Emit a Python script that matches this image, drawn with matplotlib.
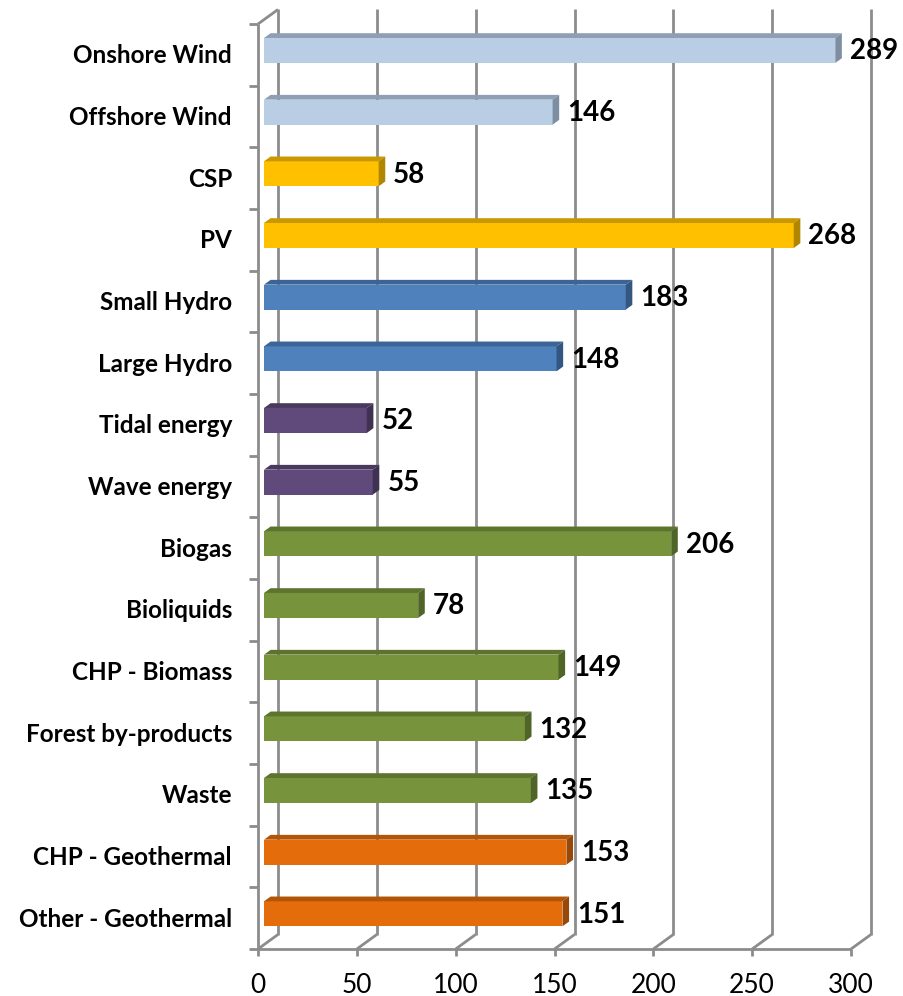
import matplotlib.pyplot as plt
from matplotlib.patches import Polygon

plt.rcParams["font.family"] = ["Lato", "DejaVu Sans"]

categories = ["Onshore Wind", "Offshore Wind", "CSP", "PV", "Small Hydro", "Large Hydro",
              "Tidal energy", "Wave energy", "Biogas", "Bioliquids", "CHP - Biomass",
              "Forest by-products", "Waste", "CHP - Geothermal", "Other - Geothermal"]
values = [289, 146, 58, 268, 183, 148, 52, 55, 206, 78, 149, 132, 135, 153, 151]
groups = ["wind", "wind", "solar", "solar", "hydro", "hydro", "ocean", "ocean",
          "bio", "bio", "bio", "bio", "bio", "geo", "geo"]
x_ticks = [0, 50, 100, 150, 200, 250, 300]

# front, top, side colours per group
palette = {
    "wind": ("#B9CDE5", "#8E9FB5", "#7E8EA2"),
    "solar": ("#FFC000", "#C99800", "#B08500"),
    "hydro": ("#4F81BD", "#3C6496", "#345782"),
    "ocean": ("#604A7B", "#4A395F", "#3F3151"),
    "bio": ("#77933C", "#5D742E", "#506428"),
    "geo": ("#E46C0A", "#B25507", "#984807"),
}

W, H = 904, 996
fig = plt.figure(figsize=(W / 100, H / 100), dpi=100)
# front plane: value 0 -> 258px, 300 -> 851px ; category band top 24px, bottom 949px
x0px, x1px, ytop, ybot = 258, 851, 24, 949
ax = fig.add_axes([x0px / W, 1 - ybot / H, (x1px - x0px) / W, (ybot - ytop) / H])
n = len(categories)
ax.set_xlim(0, 300)
ax.set_ylim(n - 0.5, -0.5)
ax.axis("off")

upx = 300 / (x1px - x0px)          # value units per pixel
vpx = n / (ybot - ytop)            # category units per pixel
DX, DY = 20 * upx, -14.5 * vpx     # depth of the 3D box
grid = dict(color="#8C8C8C", lw=2, clip_on=False, solid_capstyle="butt")

# back wall vertical gridlines + floor slants
for t in x_ticks:
    ax.plot([t + DX, t + DX], [-0.5 + DY, n - 0.5 + DY], **grid)
    ax.plot([t, t], [n - 0.5, n - 0.5 + DY * 0], **grid)
    ax.plot([t, t + DX], [n - 0.5, n - 0.5 + DY], **grid)
    ax.plot([t, t], [n - 0.5, n - 0.5 + 7 * vpx], **grid)
    ax.text(t, n - 0.5 + 36 * vpx, str(t), ha="center", va="center", fontsize=19)

# front edges
ax.plot([0, 300], [n - 0.5, n - 0.5], **grid)
ax.plot([0, 0], [-0.5, n - 0.5], **grid)
ax.plot([0, DX], [-0.5, -0.5 + DY], **grid)
for k in range(n + 1):
    ax.plot([-9 * upx, 0], [k - 0.5, k - 0.5], **grid)

# bars
f1, f2 = 0.3, 0.63
half = 12.5 * vpx
for i, (cat, v, g) in enumerate(zip(categories, values, groups)):
    front, top, side = palette[g]
    xa = f1 * DX
    xb = v + f1 * DX
    yc = i + f1 * DY
    dx, dy = (f2 - f1) * DX, (f2 - f1) * DY
    ax.add_patch(Polygon([(xa, yc - half), (xb, yc - half), (xb, yc + half), (xa, yc + half)],
                         closed=True, fc=front, ec="none", clip_on=False, zorder=3))
    ax.add_patch(Polygon([(xa, yc - half), (xb, yc - half), (xb + dx, yc - half + dy),
                          (xa + dx, yc - half + dy)],
                         closed=True, fc=top, ec="none", clip_on=False, zorder=3))
    ax.add_patch(Polygon([(xb, yc - half), (xb, yc + half), (xb + dx, yc + half + dy),
                          (xb + dx, yc - half + dy)],
                         closed=True, fc=side, ec="none", clip_on=False, zorder=3))
    ax.text(xb + dx + 8 * upx, yc + 1 * vpx, str(v), ha="left", va="center", fontsize=20,
            fontweight="bold", zorder=4)
    ax.text(-26 * upx, i + 1 * vpx, cat, ha="right", va="center", fontsize=17.5,
            fontweight="bold")

fig.savefig("out.png", dpi=100)
